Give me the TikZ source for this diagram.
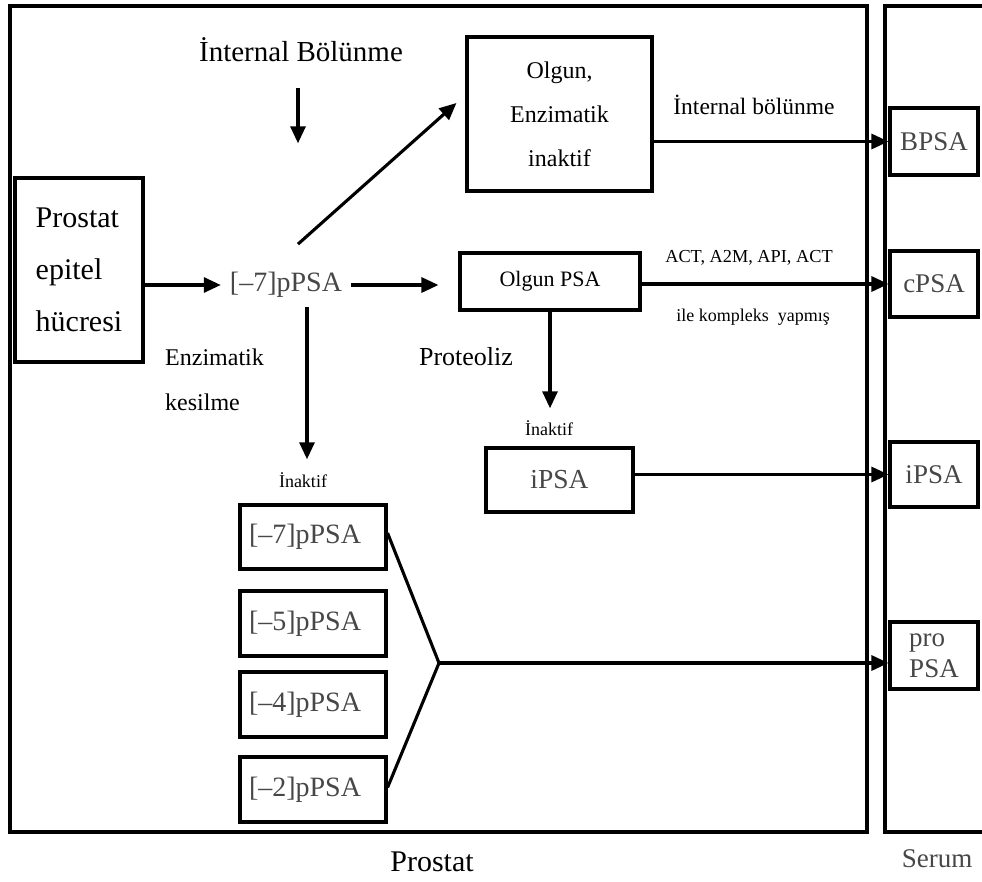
\documentclass[tikz,border=0pt]{standalone}
\usepackage{fontspec}
\setmainfont{Liberation Serif}
\usetikzlibrary{arrows.meta}
\newcommand{\fs}[2]{\fontsize{#1}{#2}\selectfont}
\tikzset{
  ln/.style={line width=3.1pt},
  bx/.style={draw, line width=3.1pt, inner sep=0pt, align=center},
  arr/.style={line width=3.1pt, -{Triangle[length=17pt,width=15pt]}},
  gt/.style={text=black!72},
  lbl/.style={inner sep=0pt, align=center},
  pbox/.style={bx, gt, minimum width=146pt, minimum height=65pt, font=\fs{28}{32}, text width=128pt, align=left},
}
\begin{document}
\begin{tikzpicture}[x=1pt,y=-1pt]
\useasboundingbox (0,0) rectangle (982,881);
\clip (0,0) rectangle (982,881);
% frames
\draw[ln] (10,6) rectangle (867,832);
\draw[ln] (992,6) -- (885,6) -- (885,832) -- (992,832);
\node[lbl, font=\fs{30}{34}] (lprost) at (432,862) {Prostat};
\node[lbl, gt, font=\fs{27}{30}] (lserum) at (937,859) {Serum};

% left box
\node[bx, minimum width=128pt, minimum height=184pt, font=\fs{30}{52}, align=left] (epi) at (79,270) {Prostat\\epitel\\hücresi};
% central pPSA
\node[gt, inner sep=9pt, font=\fs{28}{32}] (pp) at (286,285) {[–7]pPSA};
\node[lbl, font=\fs{29}{32}] (intb) at (301,50) {İnternal Bölünme};
\node[lbl, font=\fs{24}{28}] (enz) at (165,357) [anchor=west] {Enzimatik};
\node[lbl, font=\fs{24}{28}] (kes) at (165,402) [anchor=west] {kesilme};

% Olgun enzimatik inaktif
\node[bx, minimum width=185pt, minimum height=154pt, font=\fs{24}{44}] (olg) at (559.5,114) {Olgun,\\Enzimatik\\inaktif};
\node[lbl, font=\fs{23.5}{28}] (intb2) at (754,105) {İnternal bölünme};

% Olgun PSA
\node[bx, minimum width=180pt, minimum height=57pt, font=\fs{22}{26}] (opsa) at (550,281.5) {Olgun PSA};
\node[lbl, font=\fs{18.3}{20}] (act) at (749,258) {ACT, A2M, API, ACT};
\node[lbl, font=\fs{18}{20}] (kompl) at (753,317) {ile kompleks\ \ yapmış};
\node[lbl, font=\fs{26}{30}] (prot) at (466,357) {Proteoliz};
\node[lbl, font=\fs{18}{20}] (ina2) at (549,428) {İnaktif};
\node[bx, gt, minimum width=147pt, minimum height=64pt, font=\fs{27.5}{30}] (ipsa) at (559.5,480) {iPSA};

% inactive pPSA list
\node[lbl, font=\fs{18}{20}] (ina1) at (303,480) {İnaktif};
\node[pbox, minimum height=64pt] (p7) at (313,537) {[–7]pPSA};
\node[pbox] (p5) at (313,623.5) {[–5]pPSA};
\node[pbox] (p4) at (313,704.5) {[–4]pPSA};
\node[pbox] (p2) at (313,789.5) {[–2]pPSA};
\coordinate (j) at (439,663);

% serum boxes
\node[bx, gt, minimum width=88pt, minimum height=67pt, font=\fs{27}{30}] (bpsa) at (934,141.5) {BPSA};
\node[bx, gt, minimum width=88pt, minimum height=66pt, font=\fs{27}{30}] (cpsa) at (934,284) {cPSA};
\node[bx, gt, minimum width=88pt, minimum height=65pt, font=\fs{27}{30}] (spsa) at (934,474.5) {iPSA};
\node[bx, gt, minimum width=88pt, minimum height=67pt, font=\fs{27}{31}, align=left] (pro) at (934,655.5) {pro\\PSA};

% connectors
\draw[arr] ([xshift=-3pt,yshift=-26pt]intb.south) -- ++(0,55);
\draw[arr] (epi.east |- pp) -- (pp.west);
\draw[arr, shorten >=20pt] (pp.east) -- (pp.east -| opsa.west);
\draw[arr] ([xshift=12pt,yshift=19pt]pp.north) -- ([xshift=-9pt,yshift=11pt]olg.west);
\draw[arr, shorten >=13pt] ([xshift=21pt]pp.south) -- ([xshift=21pt]pp.south |- ina1.north);
\draw[arr] (olg.east |- bpsa) -- (bpsa.west);
\draw[arr] (opsa.east |- cpsa) -- (cpsa.west);
\draw[arr, shorten >=12pt] (opsa.south) -- (opsa.south |- ina2.north);
\draw[arr] (ipsa.east |- spsa) -- (spsa.west);
\draw[ln] ([yshift=4pt]p7.east) -- (j) -- ([yshift=2pt]p2.east);
\draw[arr] (j) -- (j -| pro.west);
\end{tikzpicture}
\end{document}
